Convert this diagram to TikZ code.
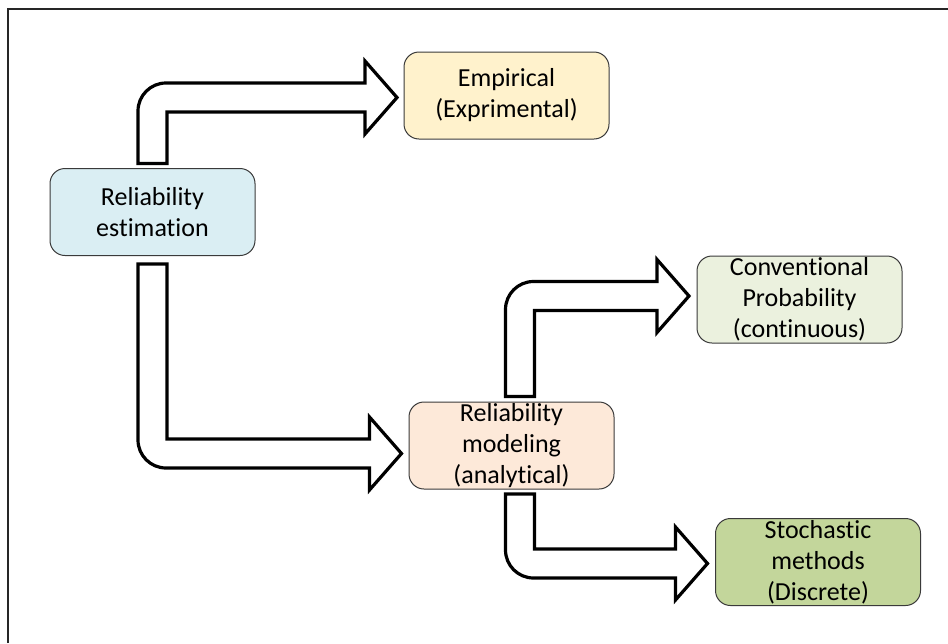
\documentclass[tikz,border=0pt]{standalone}
\usepackage{fontspec}
\setmainfont{Carlito}[Ligatures={NoCommon}]
\usetikzlibrary{calc}

\definecolor{boxline}{HTML}{3A3A3A}
\definecolor{estfill}{HTML}{DAEEF3}
\definecolor{empfill}{HTML}{FFF2CC}
\definecolor{modfill}{HTML}{FDE9D9}
\definecolor{confill}{HTML}{EBF1DE}
\definecolor{stofill}{HTML}{C3D69B}

\tikzset{
  box/.style={draw=boxline, line width=1pt, rounded corners=15pt,
    minimum width=205pt, minimum height=87pt, inner sep=0pt,
    align=center, font=\fontsize{26}{31}\selectfont},
  bigarrow/.style={draw=black, fill=white, line width=3.2pt, line join=miter}
}

% Bent block arrows: #1 = centre of the shaft's open end, #2 = tip.
% Offsets are canvas lengths (y pointing up): shaft half width 14.5pt,
% head half height 36.5pt, head length 32pt, bend radius 28pt.
\newcommand{\uprightarrow}[2]{%
  \path let \p1=(#1), \p2=(#2) in
    [bigarrow] (\x1-14.5pt, \y1) -- (\x1-14.5pt, \y2+14.5pt-28pt)
    arc[start angle=180, end angle=90, radius=28pt]
    -- (\x2-32pt, \y2+14.5pt) -- (\x2-32pt, \y2+36.5pt) -- (\x2, \y2)
    -- (\x2-32pt, \y2-36.5pt) -- (\x2-32pt, \y2-14.5pt)
    -- (\x1+14.5pt, \y2-14.5pt) -- (\x1+14.5pt, \y1) -- cycle;}
\newcommand{\downrightarrow}[2]{%
  \path let \p1=(#1), \p2=(#2) in
    [bigarrow] (\x1-14.5pt, \y1) -- (\x1-14.5pt, \y2-14.5pt+28pt)
    arc[start angle=180, end angle=270, radius=28pt]
    -- (\x2-32pt, \y2-14.5pt) -- (\x2-32pt, \y2-36.5pt) -- (\x2, \y2)
    -- (\x2-32pt, \y2+36.5pt) -- (\x2-32pt, \y2+14.5pt)
    -- (\x1+14.5pt, \y2+14.5pt) -- (\x1+14.5pt, \y1) -- cycle;}

\begin{document}
\begin{tikzpicture}[x=1pt, y=-1pt]
  \useasboundingbox (0,0) rectangle (948,643);
  % frame
  \draw[line width=2pt, black!85] (7.5,643) -- (7.5,8.5) -- (948,8.5);

  % boxes
  \node[box, fill=estfill] (est) at (152.5,212) {Reliability\\estimation};
  \node[box, fill=empfill] (emp) at (506.5,95.5) {Empirical\\(Exprimental)};
  \node[box, fill=modfill] (mod) at (511.5,445.5) {Reliability\\modeling\\(analytical)};
  \node[box, fill=confill] (con) at (799.5,299.5) {Conventional\\Probability\\(continuous)};
  \node[box, fill=stofill] (sto) at (818,562) {Stochastic\\methods\\(Discrete)};

  % arrow end points, a few points clear of the boxes
  \coordinate (a1s) at ($(est.north)+(0,-4.5)$);
  \coordinate (a1t) at ($(emp.west)+(-6.5,2)$);
  \coordinate (a2s) at ($(est.south)+(0,8)$);
  \coordinate (a2t) at ($(mod.west)+(-7,8)$);
  \coordinate (a3s) at ($(mod.north)+(8.5,-5)$);
  \coordinate (a3t) at ($(con.west)+(-7.5,-3.5)$);
  \coordinate (a4s) at ($(mod.south)+(8.5,4.5)$);
  \coordinate (a4t) at ($(sto.west)+(-7.5,1.5)$);

  \uprightarrow{a1s}{a1t}
  \downrightarrow{a2s}{a2t}
  \uprightarrow{a3s}{a3t}
  \downrightarrow{a4s}{a4t}
\end{tikzpicture}
\end{document}
